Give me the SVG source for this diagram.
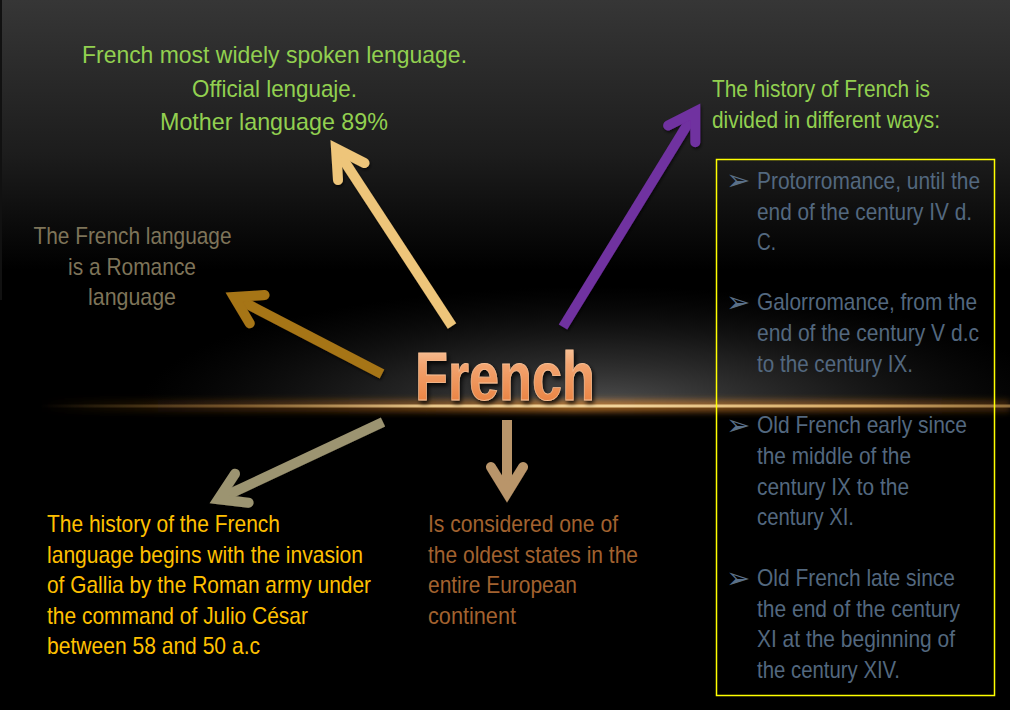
<svg xmlns="http://www.w3.org/2000/svg" width="1010" height="710" viewBox="0 0 1010 710">
  <defs>
    <linearGradient id="bg" x1="0" y1="0" x2="0" y2="1">
      <stop offset="0" stop-color="#363636"/>
      <stop offset="0.22" stop-color="#1c1c1c"/>
      <stop offset="0.38" stop-color="#000000"/>
      <stop offset="1" stop-color="#000000"/>
    </linearGradient>
    <radialGradient id="glow" cx="600" cy="406" r="460" gradientUnits="userSpaceOnUse" gradientTransform="translate(600 406) scale(1 0.26) translate(-600 -406)">
      <stop offset="0" stop-color="#555555" stop-opacity="0.95"/>
      <stop offset="0.5" stop-color="#333333" stop-opacity="0.6"/>
      <stop offset="1" stop-color="#1a1a1a" stop-opacity="0"/>
    </radialGradient>
    <linearGradient id="line" x1="0" y1="0" x2="1" y2="0">
      <stop offset="0" stop-color="#C89A50" stop-opacity="0"/>
      <stop offset="0.2" stop-color="#B88A48" stop-opacity="0.5"/>
      <stop offset="0.4" stop-color="#E8C68A"/>
      <stop offset="0.6" stop-color="#F2D49A"/>
      <stop offset="0.85" stop-color="#D4A864"/>
      <stop offset="1" stop-color="#A8824A" stop-opacity="0.8"/>
    </linearGradient>
    <linearGradient id="lineGlow" x1="0" y1="0" x2="1" y2="0">
      <stop offset="0" stop-color="#D07820" stop-opacity="0"/>
      <stop offset="0.3" stop-color="#D07820" stop-opacity="0.35"/>
      <stop offset="0.55" stop-color="#E08A30" stop-opacity="0.7"/>
      <stop offset="1" stop-color="#C07020" stop-opacity="0.3"/>
    </linearGradient>
    <linearGradient id="title" x1="0" y1="0" x2="0" y2="1">
      <stop offset="0" stop-color="#FAD2AE"/>
      <stop offset="0.35" stop-color="#F2A470"/>
      <stop offset="0.75" stop-color="#EC8A4C"/>
      <stop offset="1" stop-color="#E2763A"/>
    </linearGradient>
    <filter id="blur" x="-10%" y="-200%" width="120%" height="500%">
      <feGaussianBlur stdDeviation="3"/>
    </filter>
    <filter id="shadow" x="-10%" y="-20%" width="130%" height="150%">
      <feDropShadow dx="2" dy="3" stdDeviation="2" flood-color="#000" flood-opacity="0.8"/>
    </filter>
    <filter id="ashadow" x="-20%" y="-20%" width="140%" height="140%">
      <feDropShadow dx="1" dy="2" stdDeviation="1.5" flood-color="#000" flood-opacity="0.6"/>
    </filter>
    <clipPath id="above">
      <rect x="0" y="0" width="1010" height="406"/>
    </clipPath>
  </defs>
  <style>
    .t { font-family: 'Liberation Sans Narrow', 'Arial Narrow', 'Liberation Sans', Arial, sans-serif; font-size: 24px; }
    .green { fill: #92D050; }
    .khaki { fill: #7E7459; }
    .gold { fill: #FFC000; }
    .rust { fill: #A2622F; }
    .slate { fill: #53687F; }
    .bul { font-family: 'DejaVu Sans', sans-serif; font-size: 29px; fill: #5A7088; }
    .mid { text-anchor: middle; }
    .arr { fill: none; stroke-width: 10; stroke-linecap: butt; }
    .head { fill: none; stroke-width: 10; stroke-linecap: round; stroke-linejoin: miter; stroke-miterlimit: 10; }
    .c1 { stroke: #EEC57A; }
    .c2 { stroke: #A67418; }
    .c3 { stroke: #7030A0; }
    .c4 { stroke: #9C9471; }
    .c5 { stroke: #B9956B; }
  </style>

  <!-- background -->
  <rect x="0" y="0" width="1010" height="710" fill="url(#bg)"/>
  <rect x="0" y="0" width="1010" height="406" fill="url(#glow)" clip-path="url(#above)"/>
  <rect x="0" y="0" width="2" height="300" fill="#111111"/>

  <!-- glowing horizontal line -->
  <rect x="40" y="400" width="970" height="12" fill="url(#lineGlow)" filter="url(#blur)"/>
  <rect x="40" y="404.5" width="970" height="3" fill="url(#line)"/>

  <!-- connectors -->
  <g id="connectors" filter="url(#ashadow)">
    <g id="arrow-top">
      <line class="arr c1" x1="452" y1="326" x2="336" y2="148.5"/>
      <polyline class="head c1" points="364.5,163 336,148.5 338,180"/>
    </g>
    <g id="arrow-left">
      <line class="arr c2" x1="382" y1="374" x2="234" y2="297"/>
      <polyline class="head c2" points="264.5,295 234,297 249.7,323.3"/>
    </g>
    <g id="arrow-right">
      <line class="arr c3" x1="563" y1="327" x2="695.3" y2="111.7"/>
      <polyline class="head c3" points="668.1,125.5 695.3,111.7 695.3,142.3"/>
    </g>
    <g id="arrow-bottom-left">
      <line class="arr c4" x1="383" y1="422" x2="218.2" y2="499.2"/>
      <polyline class="head c4" points="235,473.7 218.2,499.2 248.6,502.7"/>
    </g>
    <g id="arrow-down">
      <line class="arr c5" x1="507" y1="420" x2="507" y2="493"/>
      <polyline class="head c5" points="491,467 507,493 523,467"/>
    </g>
  </g>

  <!-- center node -->
  <g id="node-french">
    <text x="415" y="400" textLength="180" lengthAdjust="spacingAndGlyphs" font-family="'Liberation Sans Narrow', 'Liberation Sans', Arial, sans-serif" font-weight="bold" font-size="68" fill="url(#title)" stroke="#F7BE92" stroke-width="0.8" filter="url(#shadow)">French</text>
  </g>

  <!-- top node -->
  <g id="node-top" class="t green mid">
    <text x="274.5" y="63" textLength="385" lengthAdjust="spacingAndGlyphs">French most widely spoken lenguage.</text>
    <text x="274.5" y="97" textLength="165" lengthAdjust="spacingAndGlyphs">Official  lenguaje.</text>
    <text x="274" y="130" textLength="228" lengthAdjust="spacingAndGlyphs">Mother language  89%</text>
  </g>

  <!-- left node -->
  <g id="node-left" class="t khaki mid">
    <text x="132.5" y="244" textLength="198" lengthAdjust="spacingAndGlyphs">The French language</text>
    <text x="132" y="275" textLength="128" lengthAdjust="spacingAndGlyphs">is a Romance</text>
    <text x="132" y="305" textLength="88" lengthAdjust="spacingAndGlyphs">language</text>
  </g>

  <!-- right title node -->
  <g id="node-right" class="t green">
    <text x="712" y="97" textLength="218" lengthAdjust="spacingAndGlyphs">The history of French is</text>
    <text x="712" y="128" textLength="228" lengthAdjust="spacingAndGlyphs">divided in different ways:</text>
  </g>

  <!-- periods box -->
  <g id="node-periods">
    <rect x="716.5" y="159.5" width="278" height="536" fill="none" stroke="#FFFF00" stroke-width="1.5"/>
    <g class="bul">
      <text x="726" y="190">➢</text>
      <text x="726" y="312">➢</text>
      <text x="726" y="435">➢</text>
      <text x="726" y="588">➢</text>
    </g>
    <g class="t slate">
      <text x="757" y="189" textLength="223" lengthAdjust="spacingAndGlyphs">Protorromance, until the</text>
      <text x="757" y="220" textLength="215" lengthAdjust="spacingAndGlyphs">end of the century IV  d.</text>
      <text x="757" y="250" textLength="19" lengthAdjust="spacingAndGlyphs">C.</text>
      <text x="757" y="310" textLength="220" lengthAdjust="spacingAndGlyphs">Galorromance, from the</text>
      <text x="757" y="341" textLength="222" lengthAdjust="spacingAndGlyphs">end of the century V d.c</text>
      <text x="757" y="372" textLength="156" lengthAdjust="spacingAndGlyphs">to the century IX.</text>
      <text x="757" y="433" textLength="210" lengthAdjust="spacingAndGlyphs">Old French early since</text>
      <text x="757" y="464" textLength="154" lengthAdjust="spacingAndGlyphs">the middle of the</text>
      <text x="757" y="495" textLength="152" lengthAdjust="spacingAndGlyphs">century IX to the</text>
      <text x="757" y="525" textLength="97" lengthAdjust="spacingAndGlyphs">century XI.</text>
      <text x="757" y="586" textLength="198" lengthAdjust="spacingAndGlyphs">Old French late since</text>
      <text x="757" y="617" textLength="203" lengthAdjust="spacingAndGlyphs">the end of the century</text>
      <text x="757" y="647" textLength="198" lengthAdjust="spacingAndGlyphs">XI at the beginning of</text>
      <text x="757" y="678" textLength="143" lengthAdjust="spacingAndGlyphs">the century XIV.</text>
    </g>
  </g>

  <!-- bottom-left node -->
  <g id="node-bottom-left" class="t gold">
    <text x="47" y="532" textLength="233" lengthAdjust="spacingAndGlyphs">The history of the French</text>
    <text x="47" y="563" textLength="316" lengthAdjust="spacingAndGlyphs">language begins with the invasion</text>
    <text x="47" y="593" textLength="324" lengthAdjust="spacingAndGlyphs">of Gallia by the Roman army under</text>
    <text x="47" y="624" textLength="261" lengthAdjust="spacingAndGlyphs">the command of Julio César</text>
    <text x="47" y="654" textLength="213" lengthAdjust="spacingAndGlyphs">between 58 and 50 a.c</text>
  </g>

  <!-- bottom-middle node -->
  <g id="node-bottom-mid" class="t rust">
    <text x="428" y="532" textLength="190" lengthAdjust="spacingAndGlyphs">Is considered one of</text>
    <text x="428" y="563" textLength="210" lengthAdjust="spacingAndGlyphs">the oldest states in the</text>
    <text x="428" y="593" textLength="149" lengthAdjust="spacingAndGlyphs">entire European</text>
    <text x="428" y="624" textLength="88" lengthAdjust="spacingAndGlyphs">continent</text>
  </g>
</svg>
